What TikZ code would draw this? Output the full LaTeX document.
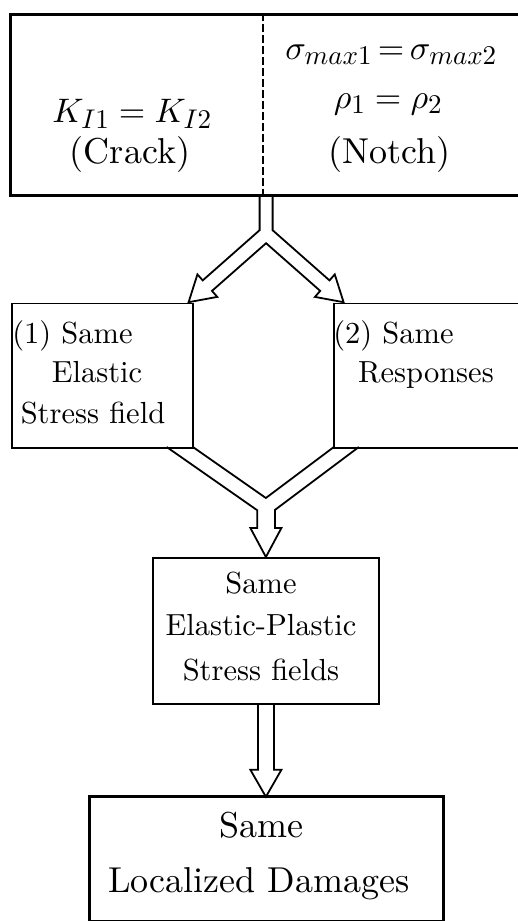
\RequirePackage{fix-cm}
\documentclass[tikz,border=0pt]{standalone}
\usepackage{fontspec}
\setmainfont{lmroman10-regular.otf}
% single design size for the math letters and digits, scaled freely
\DeclareFontShape{OML}{cmm}{m}{it}{<->cmmi10}{\skewchar\font'177}
\DeclareFontShape{OT1}{cmr}{m}{n}{<->cmr10}{}
\DeclareMathSizes{34}{34}{27}{20}
\DeclareMathSizes{30}{30}{24}{18}
\usetikzlibrary{calc}
\tikzset{
  heavybox/.style={draw, rectangle, line width=3.2pt, inner sep=0pt},
  lightbox/.style={draw, rectangle, line width=1.8pt, inner sep=0pt},
  hollow/.style={draw, line width=1.8pt, line join=miter},
  divider/.style={line width=1.6pt, dash pattern=on 8pt off 3pt},
  bigtext/.style={font=\fontsize{36}{42}\selectfont, anchor=base, inner sep=0pt},
  mathtext/.style={font=\fontsize{34}{40}\selectfont, anchor=base, inner sep=0pt},
  smalltext/.style={font=\fontsize{30.5}{36}\selectfont, anchor=base, inner sep=0pt}
}
\begin{document}
\begin{tikzpicture}[x=1pt, y=-1pt]
\useasboundingbox (0,0) rectangle (517,921);

% boxes
\node[heavybox, anchor=north west, minimum width=511pt, minimum height=181pt] (top) at (9,13) {};
\node[lightbox, anchor=north west, minimum width=181pt, minimum height=144.5pt] (left) at (11,302.5) {};
\node[lightbox, anchor=north west, minimum width=187pt, minimum height=144.5pt] (right) at (333,302.5) {};
\node[lightbox, anchor=north west, minimum width=226pt, minimum height=146pt] (cen) at (152,557) {};
\node[heavybox, anchor=north west, minimum width=354pt, minimum height=125pt] (bottom) at (88,795) {};

% dashed split of the top box
\coordinate (divx) at (263,0);
\draw[divider] (top.north -| divx) -- (top.south -| divx);

% texts of the top box
\node[mathtext] (kline) at (132,122) {$K_{I1} = K_{I2}$};
\node[bigtext] (crack) at (130,163) {(Crack)};
\node[mathtext] (sigline) at (391,59) {$\sigma_{max1}\,{=}\,\sigma_{max2}$};
\node[mathtext] (rholine) at (388,108) {$\rho_1 = \rho_2$};
\node[bigtext] (notch) at (389,163) {(Notch)};

% texts of the two middle boxes
\node[smalltext] (l1) at (97,343) {\llap{(1) }Same};
\node[smalltext] (l2) at (97,382) {Elastic};
\node[smalltext] (l3) at (93,423) {Stress field};
\node[smalltext] (r1) at (418,343) {\llap{(2) }Same};
\node[smalltext] (r2) at (426,382) {Responses};

% texts of the centre box
\node[smalltext] (c1) at (261,593) {Same};
\node[smalltext] (c2) at (261,635) {Elastic-Plastic};
\node[smalltext] (c3) at (261,680) {Stress fields};

% texts of the bottom box
\node[bigtext] (b1) at (261,837) {Same};
\node[bigtext] (b2) at (259,892) {Localized Damages};

% split hollow arrow from the top box to both middle boxes
\begin{scope}[shift={(top.south)}]
  \draw[hollow] (-6.5,0) -- (-6.5,33) -- (-63.38,83.2) -- (-68.67,77.2)
    -- (-77.5,105) -- (-48.83,99.7) -- (-54.12,93.7) -- (0,46)
    -- (54.12,93.7) -- (48.83,99.7) -- (77.5,105) -- (68.67,77.2)
    -- (63.38,83.2) -- (6.5,33) -- (6.5,0);
\end{scope}

% joining hollow arrow from both middle boxes to the centre box
\begin{scope}[shift={(cen.north)}]
  \draw[hollow] (-99.2,-110) -- (-8.6,-46.7) -- (-8.6,-29) -- (-15.5,-29)
    -- (0,0) -- (15.5,-29) -- (9,-29) -- (9,-47) -- (93,-110);
  \draw[hollow] (-73,-110) -- (0,-59) -- (68,-110);
\end{scope}

% hollow arrow from the centre box to the bottom box
\begin{scope}[shift={(cen.south)}]
  \draw[hollow] (-8,0) -- (-8,65) -- (-15.5,65) -- (0,92) -- (15.5,65)
    -- (8,65) -- (8,0);
\end{scope}
\end{tikzpicture}
\end{document}
